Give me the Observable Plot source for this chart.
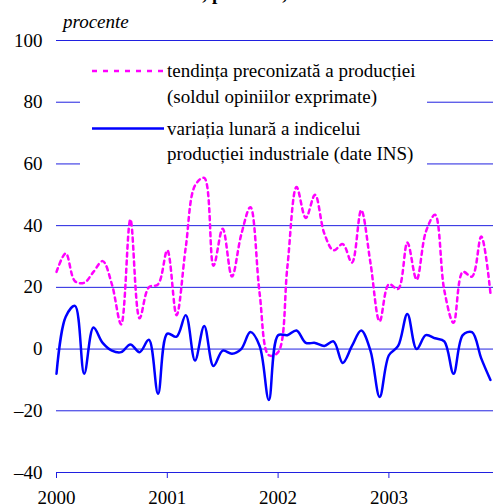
<!DOCTYPE html>
<html><head><meta charset="utf-8">
<script src="https://cdn.jsdelivr.net/npm/d3@7"></script>
<script src="https://cdn.jsdelivr.net/npm/@observablehq/plot@0.6"></script>
<style>body{margin:0;background:#fff}#chart svg{display:block}</style>
</head><body><div id="chart"></div>
<script>
// monthly data, Jan 2000 – Dec 2003
const startYear = 2000;
const tendinta = [25, 31, 22, 21.5, 25, 28.5, 21, 8, 42, 10, 20, 21,
                  32, 11, 33, 53, 55.5, 27, 39, 23.5, 37, 46, 18, -2,
                  -1, 26.5, 52.5, 42.5, 50, 37.5, 32, 34, 28, 45, 28, 9,
                  21, 19.5, 34.5, 22.5, 38, 43.5, 19, 8.5, 25, 23.5, 36.5, 18];
const variatia = [-8, 10.5, 14, -8, 7, 2, -0.5, -1, 1.5, -1, 3, -14.5,
                  5, 4, 11, -3.7, 7.5, -5.5, -0.5, -1.5, 0, 5.5, 1, -16.5,
                  4.5, 4.5, 6, 2, 2, 1, 2.5, -4.5, 1, 6, -0.5, -15.5,
                  -2, 1, 11.4, 0, 4.5, 3.5, 2.5, -8, 4.5, 5.5, -3, -10];
const yTicks = [-40, -20, 0, 20, 40, 60, 80, 100];
const xTicks = [2000, 2001, 2002, 2003];
const legendTendinta = ["tendința preconizată a producției", "(soldul opiniilor exprimate)"];
const legendVariatia = ["variația lunară a indicelui", "producției industriale (date INS)"];
const unitLabel = "procente";
const titleParts = ["Industria,", "procente, date lunare"];

const toRows = vals => vals.map((v, i) => ({x: startYear + i / 12, y: v}));
const gridColor = "#2020e0";
const FONT = "Liberation Serif";
const FS = 19;

const chart = Plot.plot({
  width: 493, height: 504,
  marginTop: 40, marginBottom: 32, marginLeft: 56, marginRight: 0,
  x: {domain: [2000, 2003.944]},
  y: {domain: [-40, 100]},
  style: {fontFamily: FONT, fontSize: FS + "px", background: "white", color: "black", overflow: "visible"},
  marks: [
    Plot.ruleY(yTicks, {stroke: gridColor, strokeWidth: 1}),
    Plot.axisY({ticks: yTicks, tickSize: 0, tickPadding: 14, label: null,
      tickFormat: d => d < 0 ? "–" + (-d) : String(d), fill: "black", fontFamily: FONT, fontSize: FS}),
    Plot.axisX({ticks: xTicks, tickSize: 6, tickPadding: 12, label: null, stroke: gridColor,
      tickFormat: d => String(d), fill: "black", fontFamily: FONT, fontSize: FS}),
    Plot.line(toRows(tendinta), {x: "x", y: "y", stroke: "#ff00ff", strokeWidth: 2.5,
      strokeDasharray: "4,4", curve: "catmull-rom"}),
    Plot.line(toRows(variatia), {x: "x", y: "y", stroke: "#0000ff", strokeWidth: 2.5,
      curve: "catmull-rom"})
  ]
});

const svg = d3.select(chart);
// title (mostly cut off at top)
const t = svg.append("text").style("font-family", FONT).attr("font-weight", "bold")
  .attr("font-size", FS).attr("fill", "black").attr("y", 0);
t.append("tspan").attr("x", 207).attr("text-anchor", "end").text(titleParts[0]);
t.append("tspan").attr("x", 212).attr("text-anchor", "start").text(titleParts[1]);

svg.append("text").attr("x", 63).attr("y", 28).style("font-family", FONT).attr("text-anchor", "start")
  .attr("font-style", "italic").attr("font-size", FS).attr("fill", "black").text(unitLabel);

// legend
const lg = svg.append("g").style("font-family", FONT).attr("font-size", FS)
  .attr("fill", "black").attr("text-anchor", "start");
lg.append("rect").attr("x", 80).attr("y", 52).attr("width", 347).attr("height", 116).attr("fill", "white");
lg.append("line").attr("x1", 92).attr("x2", 164).attr("y1", 71).attr("y2", 71)
  .attr("stroke", "#ff00ff").attr("stroke-width", 2.5).attr("stroke-dasharray", "5,6");
lg.append("text").attr("x", 167).attr("y", 77).text(legendTendinta[0]);
lg.append("text").attr("x", 167).attr("y", 103).text(legendTendinta[1]);
lg.append("line").attr("x1", 92).attr("x2", 164).attr("y1", 128.5).attr("y2", 128.5)
  .attr("stroke", "#0000ff").attr("stroke-width", 2.5);
lg.append("text").attr("x", 167).attr("y", 135).text(legendVariatia[0]);
lg.append("text").attr("x", 167).attr("y", 160).text(legendVariatia[1]);

document.getElementById("chart").appendChild(chart);
</script>
</body></html>
